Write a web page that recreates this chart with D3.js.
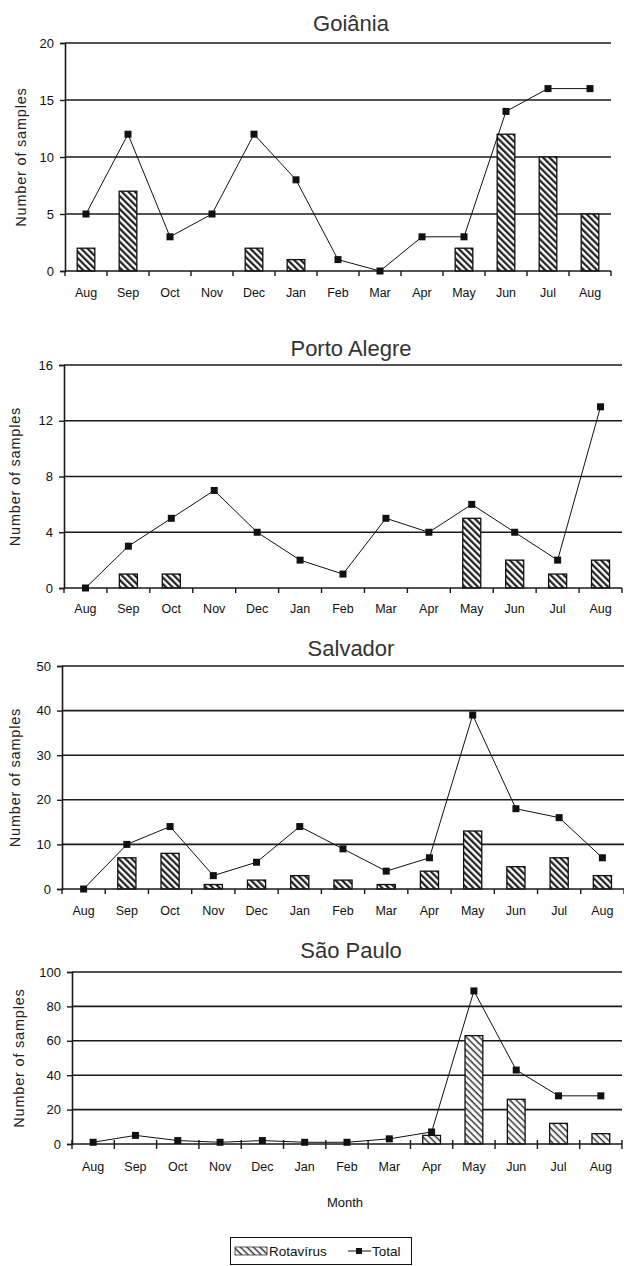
<!DOCTYPE html>
<html>
<head>
<meta charset="utf-8">
<script src="https://cdn.jsdelivr.net/npm/d3@7"></script>
<style>
  html, body { margin: 0; padding: 0; background: #fff; }
  svg { display: block; font-family: "Liberation Sans", Arial, sans-serif; }
</style>
</head>
<body>
<svg id="chart" width="624" height="1266"></svg>
<script>
// ---------- data ----------
const months = ["Aug","Sep","Oct","Nov","Dec","Jan","Feb","Mar","Apr","May","Jun","Jul","Aug"];
const cities = ["Goiânia","Porto Alegre","Salvador","São Paulo"];

const rotaGoiania = [2, 7, 0, 0, 2, 1, 0, 0, 0, 2, 12, 10, 5];
const totalGoiania = [5, 12, 3, 5, 12, 8, 1, 0, 3, 3, 14, 16, 16];

const rotaPortoAlegre = [0, 1, 1, 0, 0, 0, 0, 0, 0, 5, 2, 1, 2];
const totalPortoAlegre = [0, 3, 5, 7, 4, 2, 1, 5, 4, 6, 4, 2, 13];

const rotaSalvador = [0, 7, 8, 1, 2, 3, 2, 1, 4, 13, 5, 7, 3];
const totalSalvador = [0, 10, 14, 3, 6, 14, 9, 4, 7, 39, 18, 16, 7];

const rotaSaoPaulo = [0, 0, 0, 0, 0, 0, 0, 0, 5, 63, 26, 12, 6];
const totalSaoPaulo = [1, 5, 2, 1, 2, 1, 1, 3, 7, 89, 43, 28, 28];

const yMaxes = [20, 16, 50, 100];
const yTickSets = [[0,5,10,15,20],[0,4,8,12,16],[0,10,20,30,40,50],[0,20,40,60,80,100]];

const rotaSeries = [rotaGoiania, rotaPortoAlegre, rotaSalvador, rotaSaoPaulo];
const totalSeries = [totalGoiania, totalPortoAlegre, totalSalvador, totalSaoPaulo];

const yAxisTitle = "Number of samples";
const xAxisTitle = "Month";
const legendLabels = ["Rotavírus", "Total"];

// ---------- layout ----------
const layout = [
  { left: 65, right: 611, top: 43, bottom: 271, titleY: 31, labelY: 297, yTitleX: 22, hatch: "hatchA" },
  { left: 64, right: 622, top: 365, bottom: 588, titleY: 356, labelY: 613, yTitleX: 16, hatch: "hatchA" },
  { left: 62, right: 624, top: 666, bottom: 889, titleY: 656, labelY: 915, yTitleX: 16, hatch: "hatchA" },
  { left: 72, right: 622, top: 972, bottom: 1144, titleY: 958, labelY: 1171, yTitleX: 20, hatch: "hatchB" }
];

const tickFont = "'Liberation Sans', Arial, sans-serif";

const svg = d3.select("#chart");
const defs = svg.append("defs");

function makeHatch(id, sw, color) {
  const p = defs.append("pattern")
    .attr("id", id)
    .attr("patternUnits", "userSpaceOnUse")
    .attr("width", 4.6).attr("height", 4.6)
    .attr("patternTransform", "rotate(-45)");
  p.append("rect").attr("width", 4.6).attr("height", 4.6).attr("fill", "#fff");
  p.append("line").attr("x1", 1.2).attr("y1", 0).attr("x2", 1.2).attr("y2", 4.6)
    .attr("stroke", color).attr("stroke-width", sw);
}
makeHatch("hatchA", 2.1, "#111");
makeHatch("hatchB", 1.5, "#333");

layout.forEach((L, i) => {
  const g = svg.append("g");
  const x = d3.scaleBand().domain(d3.range(months.length)).range([L.left, L.right]).paddingInner(0).paddingOuter(0);
  const y = d3.scaleLinear().domain([0, yMaxes[i]]).range([L.bottom, L.top]);
  const bw = x.bandwidth() * 0.42;

  // gridlines
  g.selectAll(".grid").data(yTickSets[i].filter(d => d > 0)).join("line")
    .attr("x1", L.left).attr("x2", L.right)
    .attr("y1", d => y(d)).attr("y2", d => y(d))
    .attr("stroke", "#1a1a1a").attr("stroke-width", 1.6);

  // y axis
  const yAxis = d3.axisLeft(y).tickValues(yTickSets[i]).tickSize(5).tickPadding(6);
  const ya = g.append("g").attr("transform", `translate(${L.left},0)`).call(yAxis);
  ya.select(".domain").attr("stroke", "#1a1a1a").attr("stroke-width", 1.6);
  ya.selectAll(".tick line").attr("stroke", "#1a1a1a").attr("stroke-width", 1.4);
  ya.selectAll(".tick text").attr("font-size", 13).attr("fill", "#111")
    .attr("font-family", tickFont);

  // bars
  g.selectAll(".bar").data(rotaSeries[i].map((v, k) => ({ v, k })).filter(d => d.v > 0)).join("rect")
    .attr("x", d => x(d.k) + (x.bandwidth() - bw) / 2)
    .attr("y", d => y(d.v))
    .attr("width", bw)
    .attr("height", d => y(0) - y(d.v))
    .attr("fill", `url(#${L.hatch})`)
    .attr("stroke", "#111").attr("stroke-width", 1.3);

  // x axis
  g.append("line").attr("x1", L.left).attr("x2", L.right)
    .attr("y1", y(0)).attr("y2", y(0))
    .attr("stroke", "#1a1a1a").attr("stroke-width", 1.6);
  const bounds = d3.range(months.length + 1).map(k => L.left + k * x.step());
  g.selectAll(".xt").data(bounds).join("line")
    .attr("x1", d => d).attr("x2", d => d)
    .attr("y1", y(0) - (i === 3 ? 4 : 0)).attr("y2", y(0) + 5)
    .attr("stroke", "#1a1a1a").attr("stroke-width", 1.4);
  g.selectAll(".xl").data(months).join("text")
    .attr("x", (d, k) => x(k) + x.bandwidth() / 2)
    .attr("y", L.labelY)
    .attr("text-anchor", "middle")
    .attr("font-size", 12.5)
    .attr("font-family", tickFont)
    .attr("fill", "#111")
    .text(d => d);

  // total line
  const pts = totalSeries[i].map((v, k) => [x(k) + x.bandwidth() / 2, y(v)]);
  g.append("path").attr("d", d3.line()(pts))
    .attr("fill", "none").attr("stroke", "#111").attr("stroke-width", 1);
  g.selectAll(".mk").data(pts).join("rect")
    .attr("x", d => d[0] - 3.5).attr("y", d => d[1] - 3.5)
    .attr("width", 7).attr("height", 7).attr("fill", "#111");

  // title
  g.append("text").attr("x", 351).attr("y", L.titleY)
    .attr("text-anchor", "middle").attr("font-size", 22).attr("fill", "#333")
    .text(cities[i]);

  // y axis title
  g.append("text")
    .attr("transform", `translate(${L.yTitleX},${(L.top + L.bottom) / 2}) rotate(-90)`)
    .attr("text-anchor", "middle").attr("dominant-baseline", "middle")
    .attr("font-size", 14.5).attr("fill", "#222").attr("letter-spacing", 0.8)
    .text(yAxisTitle);
});

// x axis title
svg.append("text").attr("x", 345).attr("y", 1207)
  .attr("text-anchor", "middle").attr("font-size", 13)
  .attr("font-family", tickFont)
  .attr("fill", "#111").text(xAxisTitle);

// legend
const lg = svg.append("g");
lg.append("rect").attr("x", 230.5).attr("y", 1237.5).attr("width", 181).attr("height", 27)
  .attr("fill", "#fff").attr("stroke", "#111").attr("stroke-width", 1);
lg.append("rect").attr("x", 235).attr("y", 1247).attr("width", 32).attr("height", 8)
  .attr("fill", "url(#hatchB)").attr("stroke", "#333").attr("stroke-width", 0.8);
lg.append("text").attr("x", 269).attr("y", 1256).attr("font-size", 13.5)
  .attr("font-family", tickFont)
  .attr("fill", "#111").text(legendLabels[0]);
lg.append("line").attr("x1", 348).attr("x2", 371).attr("y1", 1251).attr("y2", 1251)
  .attr("stroke", "#111").attr("stroke-width", 1);
lg.append("rect").attr("x", 356).attr("y", 1248).attr("width", 6).attr("height", 6).attr("fill", "#111");
lg.append("text").attr("x", 372).attr("y", 1256).attr("font-size", 13.5)
  .attr("font-family", tickFont)
  .attr("fill", "#111").text(legendLabels[1]);
</script>
</body>
</html>
